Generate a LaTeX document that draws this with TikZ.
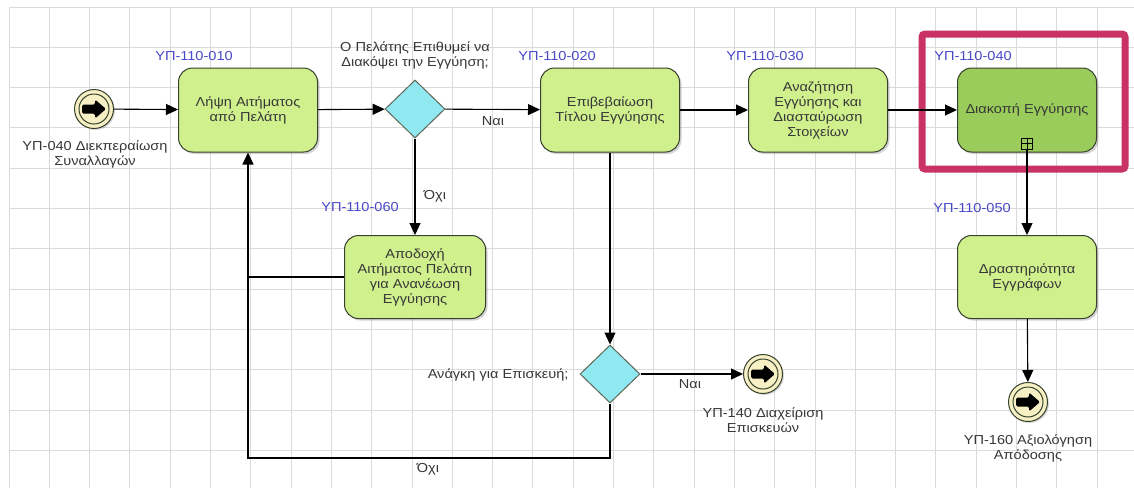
\documentclass[tikz,border=0pt]{standalone}
\usepackage{fontspec}
\setmainfont{Liberation Sans}[FakeStretch=1.12]
\usetikzlibrary{shapes.geometric,arrows.meta,shadows,calc}
\definecolor{gridc}{RGB}{218,218,218}
\definecolor{taskg}{RGB}{208,240,142}
\definecolor{taskdark}{RGB}{154,204,92}
\definecolor{gatec}{RGB}{144,232,240}
\definecolor{bordc}{RGB}{55,65,45}
\definecolor{idblue}{RGB}{72,72,200}
\definecolor{txtc}{RGB}{55,55,55}
\definecolor{hlc}{RGB}{200,50,100}
\definecolor{evfill}{RGB}{246,240,196}
\tikzset{
  every node/.style={font=\fontsize{13}{15}\selectfont, text=txtc},
  task/.style={rectangle, rounded corners=14pt, draw=bordc, line width=1pt, fill=taskg,
    minimum width=139pt, minimum height=84pt, align=center, inner sep=2pt,
    drop shadow={shadow xshift=2pt, shadow yshift=-2pt, opacity=0.35}},
  gate/.style={diamond, draw=bordc!80, line width=1pt, fill=gatec, minimum width=60pt, minimum height=58pt, inner sep=0pt},
  idl/.style={text=idblue},
  lbl/.style={align=center},
  flow/.style={line width=1.1pt, draw=black, -{Triangle[length=12pt,width=11pt]}},
  plain/.style={line width=1.1pt, draw=black},
  evt/.style={circle, draw=bordc, line width=1pt, fill=evfill, minimum size=39pt, inner sep=0pt,
    drop shadow={shadow xshift=1.5pt, shadow yshift=-1.5pt, opacity=0.3},
    path picture={
      \draw[line width=1pt, draw=bordc] (path picture bounding box.center) circle (15pt);
      \fill[black, rounded corners=1.5pt, shift={(path picture bounding box.center)}]
        (-12pt,-4.5pt) -- (1pt,-4.5pt) -- (1pt,-9.5pt) -- (12pt,0pt) -- (1pt,9.5pt) -- (1pt,4.5pt) -- (-12pt,4.5pt) -- cycle;
    }}
}
\begin{document}
\begin{tikzpicture}[x=1pt,y=-1pt]
\useasboundingbox[fill=white] (0,0) rectangle (1134,488);
% grid
\foreach \i in {0,...,27} \draw[gridc, line width=1pt] ({9+40.3*\i},7) -- ({9+40.3*\i},488);
\foreach \j in {0,...,12} \draw[gridc, line width=1pt] (9,{7+40.3*\j}) -- (1134,{7+40.3*\j});

% nodes
\node[evt] (s1) at (94,109) {};
\node[lbl] (s1l) at (95,154) {ΥΠ-040 Διεκπεραίωση\\Συναλλαγών};

\node[task] (t1) at (248,110) {Λήψη Αιτήματος\\από Πελάτη};
\node[idl] (t1id) at (194,56) {ΥΠ-110-010};

\node[gate] (g1) at (415,109) {};
\node[lbl] (g1l) at (415,55) {Ο Πελάτης Επιθυμεί να\\Διακόψει την Εγγύηση;};

\node[task] (t2) at (610,110) {Επιβεβαίωση\\Τίτλου Εγγύησης};
\node[idl] (t2id) at (557,56) {ΥΠ-110-020};

\node[task] (t4) at (818,110) {Αναζήτηση\\Εγγύησης και\\Διασταύρωση\\Στοιχείων};
\node[idl] (t4id) at (765,56) {ΥΠ-110-030};

\node[task, fill=taskdark] (t5) at (1027,110) {Διακοπή Εγγύησης};
\node[idl] (t5id) at (973,56) {ΥΠ-110-040};
\node[draw=black, line width=0.9pt, minimum width=11pt, minimum height=11pt, inner sep=0pt] (plus) at (1027,143.5) {};
\draw[line width=0.9pt] (plus.north) -- (plus.south) (plus.west) -- (plus.east);

\node[task, minimum width=141pt, minimum height=83pt] (t3) at (415,277) {Αποδοχή\\Αιτήματος Πελάτη\\για Ανανέωση\\Εγγύησης};
\node[idl] (t3id) at (360,207) {ΥΠ-110-060};

\node[task, minimum height=83pt] (t6) at (1027,277) {Δραστηριότητα\\Εγγράφων};
\node[idl] (t6id) at (972,208) {ΥΠ-110-050};

\node[gate] (g2) at (610,374) {};
\node[anchor=east] (g2l) at (572,375) {Ανάγκη για Επισκευή;};

\node[evt] (e2) at (763,374) {};
\node[lbl] (e2l) at (763,420) {ΥΠ-140 Διαχείριση\\Επισκευών};

\node[evt] (e3) at (1028,402) {};
\node[lbl] (e3l) at (1028,448) {ΥΠ-160 Αξιολόγηση\\Απόδοσης};

% highlight
\draw[hlc, line width=7pt, rounded corners=3pt] (922,34) rectangle (1125,169);

% connectors
\draw[flow] (s1) -- (t1);
\draw[flow] (t1) -- (g1);
\draw[flow] (g1) -- (t2);
\node (yes1) at (493,121) {Ναι};
\draw[flow] (t2) -- (t4);
\draw[flow] (t4) -- (t5);
\draw[flow] (plus.south) -- (t6.north);
\draw[flow] (t6) -- (e3);
\draw[flow] (g1.south) -- (t3.north);
\node (no1) at (435,196) {Όχι};
\draw[flow] (t2.south) -- (g2.north);
\draw[flow] (g2.east) -- (e2);
\node (yes2) at (690,384) {Ναι};
\coordinate (lc) at (248,458);
\draw[flow] (g2.south) |- (lc) -- (t1.south);
\draw[plain] (t3.west) -- (t3.west -| t1.south);
\node (no2) at (428,469) {Όχι};
\end{tikzpicture}
\end{document}
